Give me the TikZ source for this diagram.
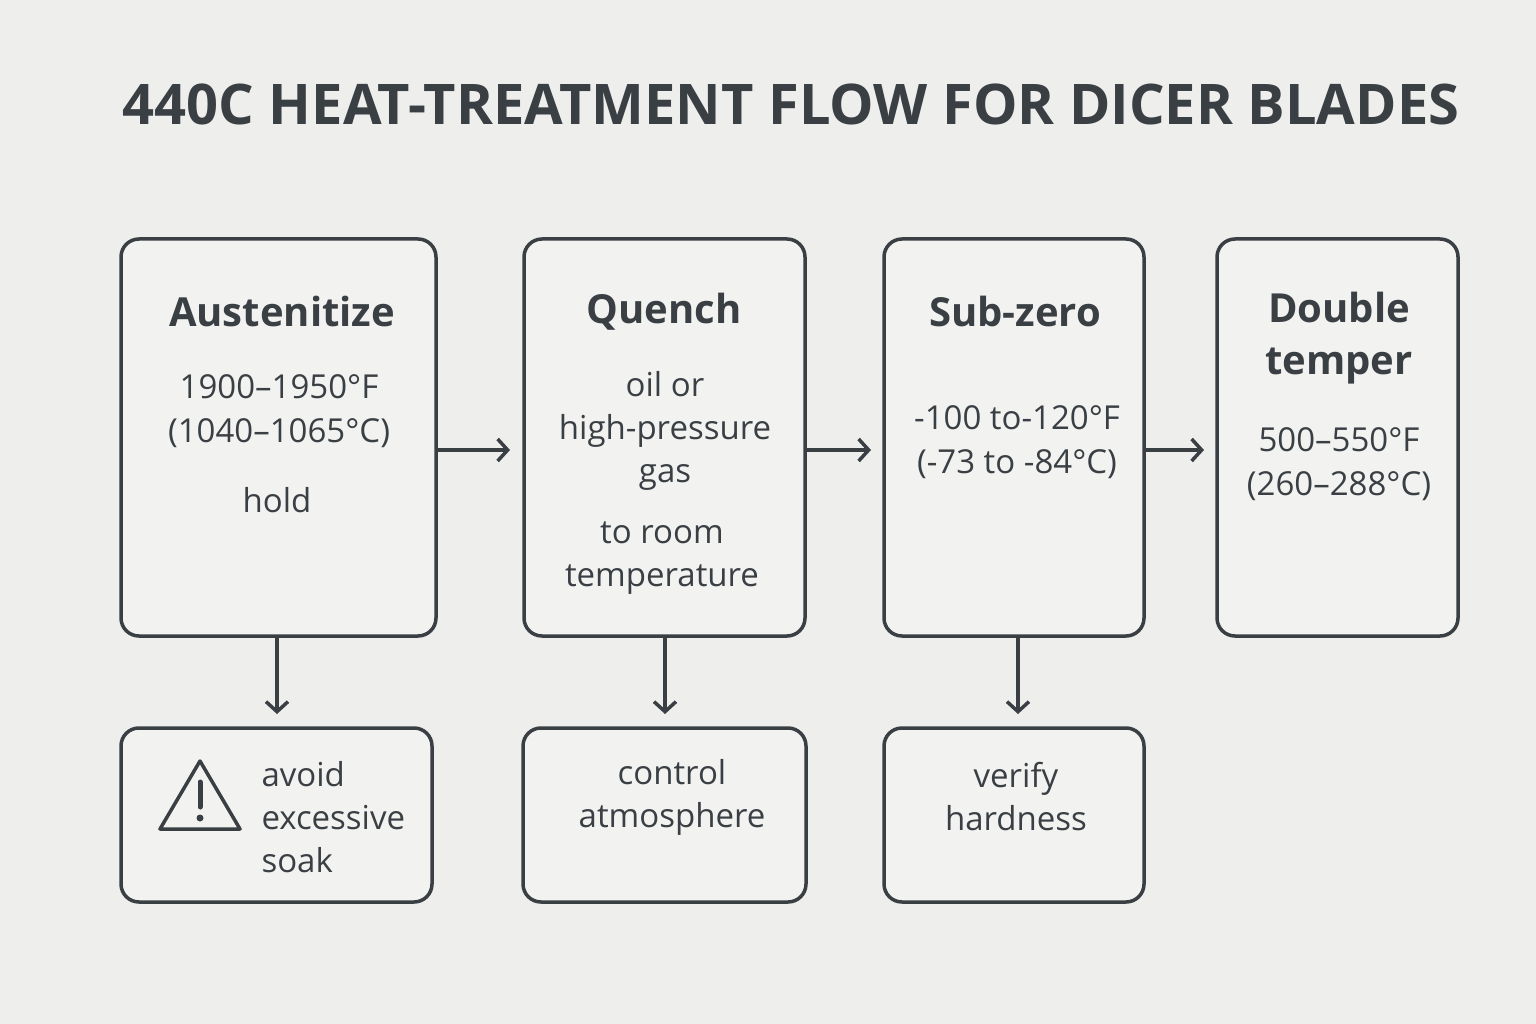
\documentclass[tikz,border=0pt]{standalone}
\usepackage{fontspec}
\setmainfont{Open Sans}
\usetikzlibrary{arrows.meta}
\definecolor{ink}{HTML}{3A3F44}
\definecolor{bg}{HTML}{EEEEED}
\definecolor{boxf}{HTML}{F2F2F1}
\begin{document}
\begin{tikzpicture}[x=1pt,y=-1pt,
  box/.style={draw=ink,line width=3.5pt,rounded corners=18pt,fill=boxf},
  head/.style={text=ink,font=\fontsize{40}{46}\selectfont\bfseries,align=center},
  body/.style={text=ink,font=\fontsize{33}{44}\selectfont,align=center},
  arr/.style={draw=ink,line width=3.5pt,-{Straight Barb[length=10pt,width=22pt,line width=3.5pt]}}]
\fill[bg] (0,0) rectangle (1536,1024);
\node[text=ink,font=\fontsize{56}{60}\selectfont\bfseries] (title) at (791,104) {440C HEAT-TREATMENT FLOW FOR DICER BLADES};
% top boxes
\draw[box] (121,239) rectangle (436,636);
\draw[box] (524,239) rectangle (805,636);
\draw[box] (884,239) rectangle (1144,636);
\draw[box] (1217,239) rectangle (1458,636);
\draw[box] (121,728) rectangle (432,902);
\draw[box] (523,728) rectangle (806,902);
\draw[box] (884,728) rectangle (1144,902);
% texts
\node[head] (ah) at (282,311) {Austenitize};
\node[body] (ab) at (279,411) {1900–1950°F\\(1040–1065°C)};
\node[body] (ahold) at (277,500) {hold};
\node[head] (qh) at (664,312) {Quench};
\node[body,font=\fontsize{33}{43}\selectfont] (qb) at (665,431) {oil or\\high-pressure\\gas};
\node[body,font=\fontsize{33}{43}\selectfont] (qb2) at (662,558) {to room\\temperature};
\node[head] (sh) at (1015,311) {Sub-zero};
\node[body] (sb) at (1017,442) {-100 to-120°F\\(-73 to -84°C)};
\node[head,font=\fontsize{40}{52}\selectfont\bfseries] (dh) at (1339,338) {Double\\temper};
\node[body] (db) at (1339,464) {500–550°F\\(260–288°C)};
\node[body,align=left,anchor=west,font=\fontsize{33}{43}\selectfont] (w) at (258,817) {avoid\\excessive\\soak};
\node[body,font=\fontsize{33}{43}\selectfont] (c) at (672,797) {control\\atmosphere};
\node[body,font=\fontsize{33}{43}\selectfont] (v) at (1016,797) {verify\\hardness};
% warning triangle
\draw[ink,line width=3.5pt,line join=round,fill=boxf] (200,761) -- (240,829) -- (160,829) -- cycle;
\draw[ink,line width=5pt,line cap=round] (200,782) -- (200,807);
\fill[ink] (200,818) circle (3.5);
% arrows
\draw[arr] (436,450) -- (510,450);
\draw[arr] (805,450) -- (871,450);
\draw[arr] (1144,450) -- (1204,450);
\draw[arr] (277,636) -- (277,714);
\draw[arr] (665,636) -- (665,714);
\draw[arr] (1018,636) -- (1018,714);
\end{tikzpicture}
\end{document}
